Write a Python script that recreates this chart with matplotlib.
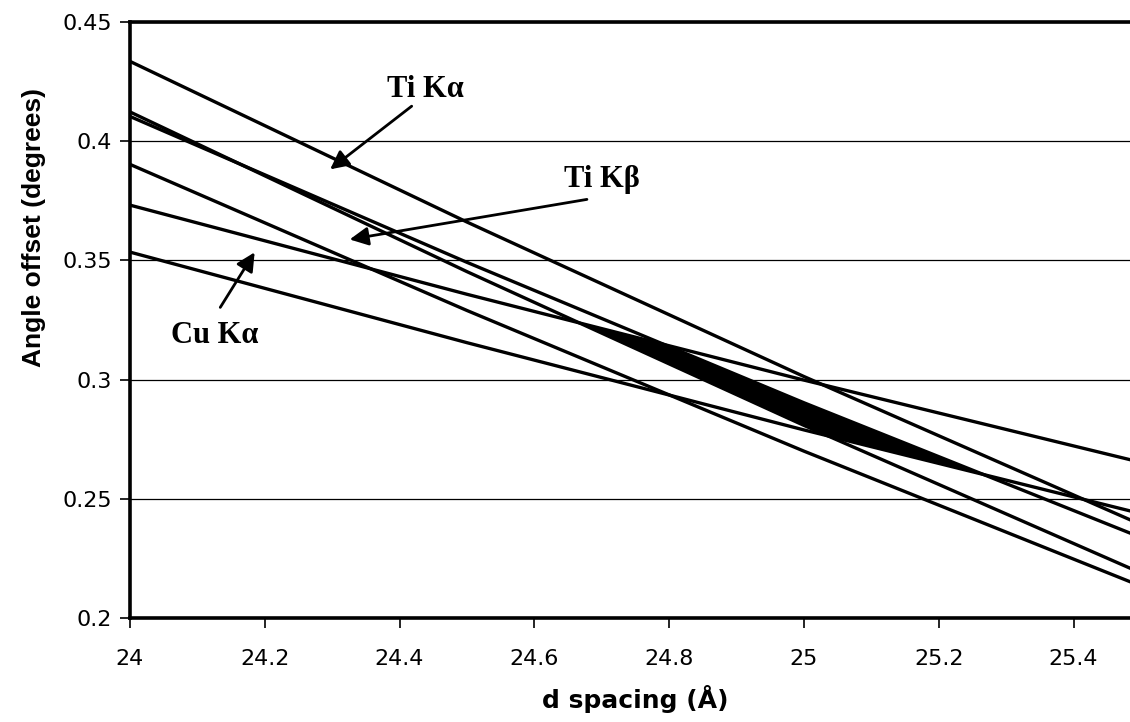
import numpy as np
import matplotlib
matplotlib.use("Agg")
import matplotlib.pyplot as plt

# d spacing (Å) where each calculated curve is sampled
d_pts = [24.0, 24.5, 25.0, 25.5]

# Angle offset (degrees) of the upper and lower bound for each X-ray line
ti_ka_upper = [0.4335, 0.3661, 0.3013, 0.2392]
ti_ka_lower = [0.4123, 0.3453, 0.2808, 0.2189]
ti_kb_upper = [0.4104, 0.3492, 0.2903, 0.2338]
ti_kb_lower = [0.3903, 0.3290, 0.2700, 0.2134]
cu_ka_upper = [0.3732, 0.3358, 0.2998, 0.2653]
cu_ka_lower = [0.3535, 0.3155, 0.2789, 0.2438]

x_ticks = [24.0, 24.2, 24.4, 24.6, 24.8, 25.0, 25.2, 25.4]
x_tick_labels = ["24", "24.2", "24.4", "24.6", "24.8", "25", "25.2", "25.4"]
y_ticks = [0.2, 0.25, 0.3, 0.35, 0.4, 0.45]
y_tick_labels = ["0.2", "0.25", "0.3", "0.35", "0.4", "0.45"]

fig = plt.figure(figsize=(11.30, 7.22), dpi=100)
ax = fig.add_axes([0.1150, 0.1440, 0.8947, 0.8255])

uppers = [ti_ka_upper, ti_kb_upper, cu_ka_upper]
lowers = [ti_ka_lower, ti_kb_lower, cu_ka_lower]

for series in uppers + lowers:
    ax.plot(d_pts, series, color="black", lw=2.4, solid_capstyle="butt",
            solid_joinstyle="round", zorder=3)

# Solutions common to all three lines: below every upper bound, above every lower bound
d_fine = np.linspace(d_pts[0], d_pts[-1], 3000)
up = np.min([np.interp(d_fine, d_pts, s) for s in uppers], axis=0)
lo = np.max([np.interp(d_fine, d_pts, s) for s in lowers], axis=0)
ax.fill_between(d_fine, lo, up, where=up > lo, interpolate=True,
                color="black", lw=0, zorder=3)

ax.set_xlim(24.0, 25.5)
ax.set_ylim(0.2, 0.45)
ax.set_xticks(x_ticks)
ax.set_xticklabels(x_tick_labels)
ax.set_yticks(y_ticks)
ax.set_yticklabels(y_tick_labels)

ax.yaxis.grid(True, color="black", lw=0.9, zorder=1)
ax.set_axisbelow(True)

for side in ["left", "bottom", "top"]:
    ax.spines[side].set_linewidth(2.6)
    ax.spines[side].set_color("black")
ax.spines["right"].set_visible(False)

ax.tick_params(axis="both", direction="out", length=7, width=1.2, colors="black",
               labelsize=16)
ax.tick_params(axis="x", pad=15)
ax.tick_params(axis="y", pad=6)
for lab in ax.get_xticklabels() + ax.get_yticklabels():
    lab.set_family("DejaVu Sans")

ax.set_xlabel("d spacing (Å)", fontsize=18, fontweight="bold",
              family="DejaVu Sans", labelpad=12)
ax.set_ylabel("Angle offset (degrees)", fontsize=19, fontweight="bold",
              family="Liberation Sans")
ax.yaxis.set_label_coords(-0.083, 0.655)

serif = ["Liberation Serif", "DejaVu Serif"]
arrow = dict(arrowstyle="-|>", color="black", lw=2.0, mutation_scale=28,
             shrinkA=0, shrinkB=0)

ax.text(24.438, 0.4218, "Ti Kα", fontsize=22, fontweight="bold", family=serif,
        ha="center", va="center", zorder=5)
ax.annotate("", xy=(24.297, 0.3882), xytext=(24.418, 0.4147), arrowprops=arrow, zorder=5)

ax.text(24.70, 0.3840, "Ti Kβ", fontsize=22, fontweight="bold", family=serif,
        ha="center", va="center", zorder=5)
ax.annotate("", xy=(24.326, 0.3588), xytext=(24.678, 0.3756), arrowprops=arrow, zorder=5)

ax.text(24.125, 0.3185, "Cu Kα", fontsize=22, fontweight="bold", family=serif,
        ha="center", va="center", zorder=5)
ax.annotate("", xy=(24.185, 0.3534), xytext=(24.134, 0.3303), arrowprops=arrow, zorder=5)

fig.savefig("out.png", dpi=100)
